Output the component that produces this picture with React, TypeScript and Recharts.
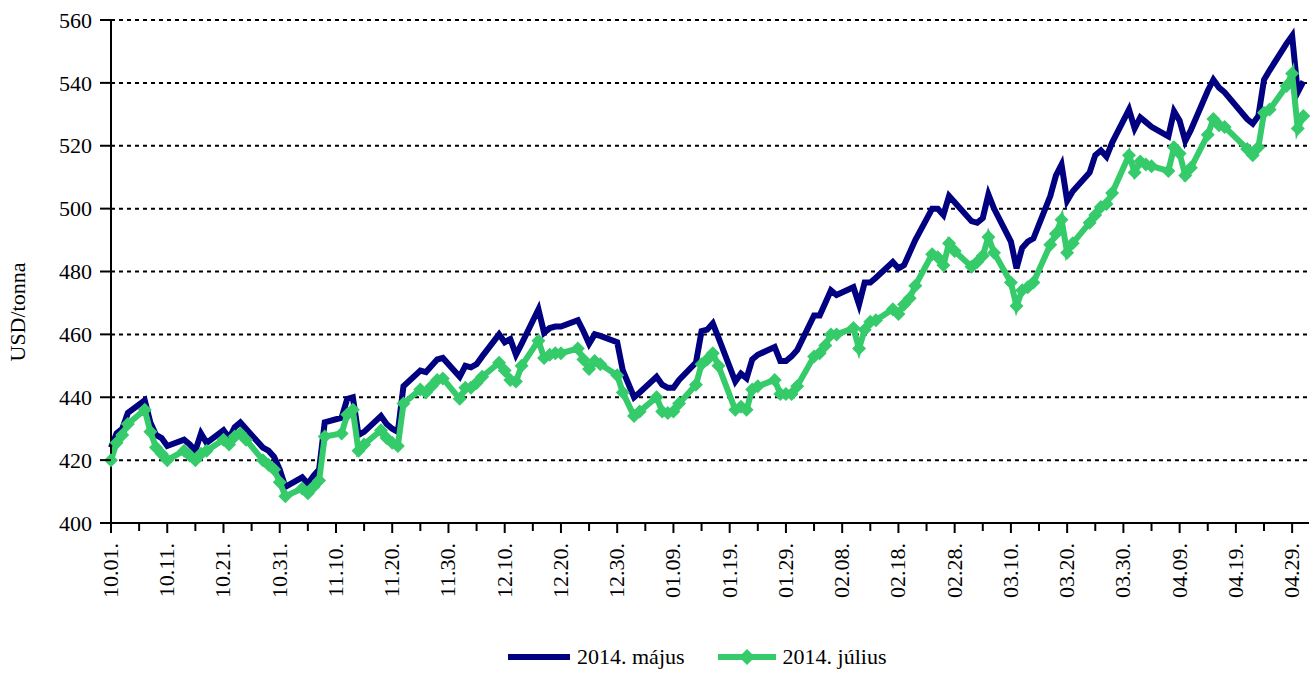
import { LineChart, Line, XAxis, YAxis, CartesianGrid, Legend } from 'recharts';

// trading days, counted as days since 2013-10-01
const days = [
  0, 1, 2, 3, 6, 7, 8, 9, 10, 13, 14, 15, 16, 17, 20, 21, 22, 23, 24, 27, 28, 29, 30, 31,
  34, 35, 36, 37, 38, 41, 42, 43, 44, 45, 48, 49, 50, 51, 52, 55, 56, 57, 58, 59,
  62, 63, 64, 65, 66, 69, 70, 71, 72, 73, 76, 77, 78, 79, 80, 83, 84, 85, 86, 87, 90, 91,
  93, 94, 97, 98, 99, 100, 101, 104, 105, 106, 107, 108, 111, 112, 113, 114, 115,
  118, 119, 120, 121, 122, 125, 126, 127, 128, 129, 132, 133, 134, 135, 136,
  139, 140, 141, 142, 143, 146, 147, 148, 149, 150, 153, 154, 155, 156, 157,
  160, 161, 162, 163, 164, 167, 168, 169, 170, 171, 174, 175, 176, 177, 178,
  181, 182, 183, 184, 185, 188, 189, 190, 191, 192, 195, 196, 197, 198,
  202, 203, 204, 205, 206, 209, 210, 211, 212,
];

// 2014. május
const majus = [
  424, 428.5, 430, 435, 439, 432, 428, 427, 424.5, 426.5, 425, 423, 428.5, 425.5,
  429.5, 427, 430.5, 432, 430, 424, 423, 421, 417, 411.5,
  414.5, 412.5, 415, 417, 432, 433.5, 439.5, 440, 428, 429, 434, 431.5, 430, 429, 443.5,
  448.5, 448, 450, 452, 452.5,
  446.5, 450, 449.5, 450.5, 453, 460, 457.5, 458.5, 453.5, 457, 468, 460.5, 462, 462.5, 462.5,
  464.5, 461, 457, 460, 459.5, 457.5, 448.5,
  440, 441.5, 446.5, 444, 443, 443, 445.5, 451, 461, 461.5, 463.5, 459, 445, 447.5, 446, 452, 453.5,
  456, 451.5, 451.5, 453, 455, 466, 466, 470, 474, 472.5, 475, 469.5, 476.5, 476.5, 478,
  483, 481, 482, 486, 490, 500, 500, 498, 504, 502, 496, 495.5, 497, 504.5, 500,
  489.5, 481, 487.5, 489.5, 490.5, 504, 510.5, 514, 502.5, 505.5, 511.5, 517, 518.5, 516.5, 521,
  531.5, 525.5, 529, 527.5, 526, 523, 531, 528, 521.5, 525, 537.5, 541, 538.5, 537,
  528.5, 527, 529.5, 541, 544, 552.5, 555, 537, 540.5,
];

// 2014. július
const julius = [
  420, 425.5, 428, 431.5, 436, 429, 424, 422, 420, 423, 421.5, 420, 422, 423,
  426.5, 425, 427.5, 428.5, 426.5, 420, 418.5, 417, 413, 408.5,
  411, 409.5, 411.5, 413.5, 427.5, 428.5, 434.5, 436, 423, 425, 429.5, 427, 425.5, 424.5, 438,
  442.5, 441.5, 443.5, 445.5, 446,
  439.5, 443, 443, 444.5, 446.5, 451, 448.5, 445.5, 445, 450, 458, 452.5, 453.5, 454, 454,
  455.5, 452, 449, 451.5, 450.5, 447, 441.5,
  434, 435.5, 440, 435.5, 435, 435.5, 438, 444, 450.5, 452, 454, 450, 436, 437, 436, 442.5, 443.5,
  445.5, 441, 441, 441, 443.5, 453, 454, 456.5, 460, 460, 462, 455.5, 461.5, 464, 464.5,
  468, 466.5, 469.5, 471.5, 475.5, 485.5, 484.5, 482, 489, 486.5, 481.5, 483, 485, 491, 486,
  476.5, 469, 474, 475, 476.5, 488.5, 492, 496.5, 486, 489, 495.5, 498, 500.5, 501.5, 505,
  517, 511.5, 515, 514, 513.5, 512, 519.5, 517.5, 510.5, 513, 523.5, 528.5, 526.5, 526,
  519, 517, 519.5, 530.5, 531.5, 539, 543, 525.5, 529.5,
];

const tickLabels = [
  '10.01.', '10.11.', '10.21.', '10.31.', '11.10.', '11.20.', '11.30.', '12.10.',
  '12.20.', '12.30.', '01.09.', '01.19.', '01.29.', '02.08.', '02.18.', '02.28.',
  '03.10.', '03.20.', '03.30.', '04.09.', '04.19.', '04.29.',
];

const seriesNames = ['2014. május', '2014. július'];
const yTicks = [400, 420, 440, 460, 480, 500, 520, 540, 560];

const NAVY = '#000080';
const GREEN = '#35CB6A';
const FONT = '"Liberation Serif", "Times New Roman", serif';

const data = days.map((d, i) => ({ day: d, majus: majus[i], julius: julius[i] }));
const xTicks = Array.from({ length: 43 }, (_, i) => i * 5);

const XTick = ({ x, y, payload }: any) => {
  const major = payload.value % 10 === 0;
  const lx = x + 7;
  const ly = y + 20;
  return (
    <g>
      <line x1={x} y1={y} x2={x} y2={y + (major ? 10 : 8)} stroke="#000" strokeWidth={2} />
      {major && (
        <text x={lx} y={ly} transform={`rotate(-90 ${lx} ${ly})`} textAnchor="end"
          fontFamily={FONT} fontSize={22} fill="#000">
          {tickLabels[payload.value / 10]}
        </text>
      )}
    </g>
  );
};

const YTick = ({ x, y, payload }: any) => (
  <g>
    <line x1={x - 11} y1={y} x2={x} y2={y} stroke="#000" strokeWidth={2} />
    <text x={x - 19} y={y} dy="0.35em" textAnchor="end" fontFamily={FONT} fontSize={22} fill="#000">
      {payload.value}
    </text>
  </g>
);

const Diamond = ({ cx, cy }: any) => (
  <polygon points={`${cx},${cy - 7} ${cx + 7},${cy} ${cx},${cy + 7} ${cx - 7},${cy}`} fill={GREEN} />
);

const renderLegend = () => (
  <div style={{ width: 1313, height: 30, display: 'flex', alignItems: 'center', fontFamily: FONT, fontSize: 22, color: '#000' }}>
    <div style={{ marginLeft: 508, display: 'flex', alignItems: 'center' }}>
      <svg width={62} height={16}>
        <line x1={0} y1={8} x2={62} y2={8} stroke={NAVY} strokeWidth={6} />
      </svg>
      <span style={{ marginLeft: 7 }}>{seriesNames[0]}</span>
      <svg width={58} height={16} style={{ marginLeft: 33 }}>
        <line x1={0} y1={8} x2={58} y2={8} stroke={GREEN} strokeWidth={6} />
        <polygon points="29,0 37,8 29,16 21,8" fill={GREEN} />
      </svg>
      <span style={{ marginLeft: 7 }}>{seriesNames[1]}</span>
    </div>
  </div>
);

export default function App() {
  return (
    <div style={{ position: 'absolute', left: 0, top: 0, background: '#fff' }}>
      <LineChart width={1313} height={673} data={data} margin={{ top: 20, right: 4, left: 0, bottom: 1 }}>
        <CartesianGrid vertical={false} stroke="#000" strokeWidth={2} strokeDasharray="4 4" />
        <XAxis
          dataKey="day"
          type="number"
          domain={[0, 213]}
          ticks={xTicks}
          interval={0}
          tickSize={0}
          tickMargin={0}
          tickLine={false}
          tick={<XTick />}
          height={119}
          axisLine={{ stroke: '#000', strokeWidth: 2 }}
        />
        <YAxis
          domain={[400, 560]}
          ticks={yTicks}
          interval={0}
          tickSize={0}
          tickMargin={0}
          tickLine={false}
          tick={<YTick />}
          width={111}
          axisLine={{ stroke: '#000', strokeWidth: 2 }}
          label={() => (
            <text x={25} y={312} transform="rotate(-90 25 312)" textAnchor="middle"
              fontFamily={FONT} fontSize={22} fill="#000">
              USD/tonna
            </text>
          )}
        />
        <Legend verticalAlign="bottom" content={renderLegend} wrapperStyle={{ left: 0, width: 1313 }} />
        <Line type="linear" dataKey="majus" name={seriesNames[0]} stroke={NAVY} strokeWidth={6}
          dot={false} isAnimationActive={false} />
        <Line type="linear" dataKey="julius" name={seriesNames[1]} stroke={GREEN} strokeWidth={6}
          dot={<Diamond />} activeDot={false} isAnimationActive={false} />
      </LineChart>
    </div>
  );
}
